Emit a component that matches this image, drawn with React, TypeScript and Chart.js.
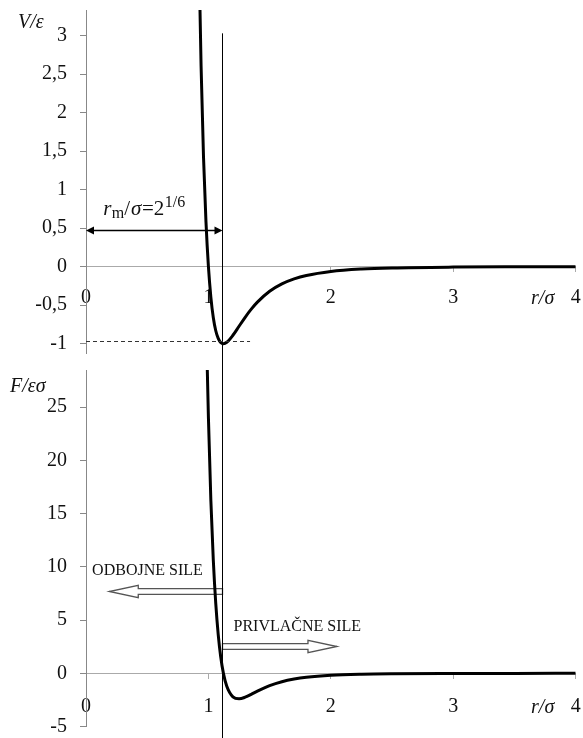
import React, { useEffect, useRef } from "react";
import { Chart, registerables } from "chart.js";

Chart.register(...registerables);

// ---------- data ----------
const xTicks = [0, 1, 2, 3, 4];
const vTicks = [-1, -0.5, 0, 0.5, 1, 1.5, 2, 2.5, 3];
const fTicks = [-5, 0, 5, 10, 15, 20, 25];

const rV = [0.92, 0.94, 0.96, 0.98, 1.0, 1.02, 1.04, 1.06, 1.08, 1.1, 1.1225, 1.15, 1.2, 1.25, 1.3, 1.35, 1.4, 1.5, 1.6, 1.7, 1.8, 2.0, 2.25, 2.5, 3.0, 3.5, 4.0];
const vValues = [4.28, 2.607, 1.418, 0.582, 0, -0.398, -0.663, -0.832, -0.932, -0.984, -1.0, -0.982, -0.891, -0.774, -0.657, -0.552, -0.461, -0.32, -0.224, -0.159, -0.114, -0.0615, -0.0306, -0.0164, -0.0055, -0.0022, -0.001];

const rF = [0.97, 0.98, 0.99, 1.0, 1.02, 1.04, 1.06, 1.08, 1.1, 1.1225, 1.15, 1.2, 1.25, 1.3, 1.35, 1.4, 1.5, 1.6, 1.7, 1.8, 2.0, 2.25, 2.5, 3.0, 3.5, 4.0];
const fValues = [41.6, 34.77, 28.9, 24, 16.21, 10.59, 6.54, 3.64, 1.586, 0, -1.221, -2.21, -2.394, -2.241, -1.966, -1.671, -1.158, -0.788, -0.537, -0.369, -0.182, -0.081, -0.039, -0.011, -0.0037, -0.0015];

// annotation values (data units)
const rMin = 1.112; // vertical marker r_m/σ
const markerTopV = 3.03;
const dashedV = -0.97;
const dashedEndR = 1.34;
const rmArrowV = 0.48;
const rmLabelR = 0.14;
const rmLabelV = 0.67;
const repulsiveArrowF = 7.76;
const repulsiveTipR = 0.19;
const attractiveArrowF = 2.56;
const attractiveTipR = 2.05;
const repulsiveLabel = "ODBOJNE SILE";
const repulsiveLabelR = 0.05;
const repulsiveLabelF = 9.63;
const attractiveLabel = "PRIVLAČNE SILE";
const attractiveLabelR = 1.205;
const attractiveLabelF = 4.38;
const xAxisTitleR = 3.73;

const SERIF = '"Liberation Serif", "Times New Roman", serif';
const fmt = (v: number) => String(v).replace(".", ",");

type Run = { t: string; f: string; dy: number; gap?: number };
function drawRuns(ctx: CanvasRenderingContext2D, runs: Run[], x: number, y: number) {
  let cx = x;
  ctx.textBaseline = "alphabetic";
  ctx.textAlign = "left";
  for (const r of runs) {
    ctx.font = r.f;
    ctx.fillText(r.t, cx, y + r.dy);
    cx += ctx.measureText(r.t).width + (r.gap || 0);
  }
}

function blockArrow(ctx: CanvasRenderingContext2D, xTail: number, xTip: number, yc: number) {
  const dir = Math.sign(xTip - xTail);
  const headLen = 29;
  const headHalf = 6.2;
  const shaftHalf = 2.9;
  const xb = xTip - dir * headLen;
  ctx.beginPath();
  ctx.moveTo(xTail, yc - shaftHalf);
  ctx.lineTo(xb, yc - shaftHalf);
  ctx.lineTo(xb, yc - headHalf);
  ctx.lineTo(xTip, yc);
  ctx.lineTo(xb, yc + headHalf);
  ctx.lineTo(xb, yc + shaftHalf);
  ctx.lineTo(xTail, yc + shaftHalf);
  ctx.closePath();
  ctx.fillStyle = "#fff";
  ctx.fill();
  ctx.strokeStyle = "#555";
  ctx.lineWidth = 1.3;
  ctx.stroke();
}

function makeOptions(yMin: number, yMax: number, yTicks: number[], pad: any, xPad: number, plugin: any) {
  return {
    type: "line" as const,
    data: { datasets: [] as any[] },
    options: {
      animation: false as const,
      responsive: false,
      devicePixelRatio: 1,
      layout: { padding: pad },
      plugins: { legend: { display: false }, tooltip: { enabled: false } },
      scales: {
        x: {
          type: "linear" as const,
          min: 0,
          max: 4,
          position: { y: 0 },
          afterBuildTicks: (s: any) => {
            s.ticks = xTicks.map((v) => ({ value: v }));
          },
          afterFit: (s: any) => {
            s.paddingLeft = 0;
            s.paddingRight = 0;
          },
          border: { display: true, color: "#aaaaaa", width: 1 },
          grid: { display: true, drawOnChartArea: false, drawTicks: true, tickLength: 5, color: "#aaaaaa" },
          ticks: {
            padding: xPad,
            maxRotation: 0,
            autoSkip: false,
            color: "#111",
            font: { family: SERIF, size: 20 },
            callback: (v: any) => fmt(v),
          },
        },
        y: {
          type: "linear" as const,
          min: yMin,
          max: yMax,
          position: "left" as const,
          afterBuildTicks: (s: any) => {
            s.ticks = yTicks.map((v) => ({ value: v }));
          },
          afterFit: (s: any) => {
            s.width = 86;
            s.paddingTop = 0;
            s.paddingBottom = 0;
          },
          border: { display: true, color: "#888888", width: 1 },
          grid: { display: true, drawOnChartArea: false, drawTicks: true, tickLength: 6, color: "#888888" },
          ticks: {
            padding: 13,
            color: "#111",
            font: { family: SERIF, size: 20 },
            callback: (v: any) => fmt(v),
          },
        },
      },
    },
    plugins: [plugin],
  };
}

const topPlugin = {
  id: "topAnnotations",
  afterDatasetsDraw(chart: any) {
    const { ctx, scales } = chart;
    const x = scales.x;
    const y = scales.y;
    ctx.save();
    // vertical marker
    const vx = Math.round(x.getPixelForValue(rMin)) + 0.5;
    ctx.strokeStyle = "#000";
    ctx.lineWidth = 1;
    ctx.beginPath();
    ctx.moveTo(vx, y.getPixelForValue(markerTopV));
    ctx.lineTo(vx, chart.height);
    ctx.stroke();
    // dashed line at the minimum
    ctx.setLineDash([4, 3]);
    ctx.strokeStyle = "#333";
    const dy = Math.round(y.getPixelForValue(dashedV)) + 0.5;
    ctx.beginPath();
    ctx.moveTo(x.getPixelForValue(0), dy);
    ctx.lineTo(x.getPixelForValue(dashedEndR), dy);
    ctx.stroke();
    ctx.setLineDash([]);
    // double arrow
    const ay = Math.round(y.getPixelForValue(rmArrowV)) + 0.5;
    const ax0 = x.getPixelForValue(0);
    const ax1 = vx;
    ctx.lineWidth = 1.5;
    ctx.strokeStyle = "#000";
    ctx.fillStyle = "#000";
    ctx.beginPath();
    ctx.moveTo(ax0 + 4, ay);
    ctx.lineTo(ax1 - 4, ay);
    ctx.stroke();
    const head = (tipX: number, dir: number) => {
      ctx.beginPath();
      ctx.moveTo(tipX, ay);
      ctx.lineTo(tipX + dir * 8, ay - 4);
      ctx.lineTo(tipX + dir * 8, ay + 4);
      ctx.closePath();
      ctx.fill();
    };
    head(ax0, 1);
    head(ax1, -1);
    // r_m label
    ctx.fillStyle = "#111";
    drawRuns(
      ctx,
      [
        { t: "r", f: `italic 21px ${SERIF}`, dy: 0, gap: 0.5 },
        { t: "m", f: `16px ${SERIF}`, dy: 3 },
        { t: "/", f: `21px ${SERIF}`, dy: 0, gap: 1 },
        { t: "σ", f: `italic 21px ${SERIF}`, dy: 0, gap: 0.5 },
        { t: "=2", f: `21px ${SERIF}`, dy: 0, gap: 0.5 },
        { t: "1/6", f: `16px ${SERIF}`, dy: -8 },
      ],
      x.getPixelForValue(rmLabelR),
      y.getPixelForValue(rmLabelV)
    );
    // axis titles
    ctx.font = `italic 20px ${SERIF}`;
    ctx.textBaseline = "middle";
    ctx.textAlign = "left";
    ctx.fillText("V/ε", 18, chart.chartArea.top + 13);
    ctx.textAlign = "center";
    ctx.fillText("r/σ", x.getPixelForValue(xAxisTitleR), y.getPixelForValue(0) + 32);
    ctx.restore();
  },
};

const bottomPlugin = {
  id: "bottomAnnotations",
  beforeDatasetsDraw(chart: any) {
    const { ctx, scales } = chart;
    const x = scales.x;
    const y = scales.y;
    ctx.save();
    const vx = Math.round(x.getPixelForValue(rMin)) + 0.5;
    blockArrow(ctx, vx, x.getPixelForValue(repulsiveTipR), Math.round(y.getPixelForValue(repulsiveArrowF)) + 0.5);
    blockArrow(ctx, vx, x.getPixelForValue(attractiveTipR), Math.round(y.getPixelForValue(attractiveArrowF)) + 0.5);
    ctx.fillStyle = "#111";
    ctx.font = `16px ${SERIF}`;
    ctx.textBaseline = "middle";
    ctx.textAlign = "left";
    ctx.fillText(repulsiveLabel, x.getPixelForValue(repulsiveLabelR), y.getPixelForValue(repulsiveLabelF));
    ctx.fillText(attractiveLabel, x.getPixelForValue(attractiveLabelR), y.getPixelForValue(attractiveLabelF));
    ctx.restore();
  },
  afterDatasetsDraw(chart: any) {
    const { ctx, scales } = chart;
    const x = scales.x;
    const y = scales.y;
    ctx.save();
    const vx = Math.round(x.getPixelForValue(rMin)) + 0.5;
    ctx.strokeStyle = "#000";
    ctx.lineWidth = 1;
    ctx.beginPath();
    ctx.moveTo(vx, 0);
    ctx.lineTo(vx, chart.height);
    ctx.stroke();
    ctx.fillStyle = "#111";
    ctx.font = `italic 20px ${SERIF}`;
    ctx.textBaseline = "middle";
    ctx.textAlign = "left";
    ctx.fillText("F/εσ", 10, chart.chartArea.top + 17);
    ctx.textAlign = "center";
    ctx.fillText("r/σ", x.getPixelForValue(xAxisTitleR), y.getPixelForValue(0) + 34);
    ctx.restore();
  },
};

const lineStyle = {
  borderColor: "#000",
  borderWidth: 3,
  pointRadius: 0,
  cubicInterpolationMode: "monotone" as const,
  fill: false,
  clip: 0,
};

const TOP_H = 362;
const BOTTOM_H = 376;

export default function App() {
  const topRef = useRef<HTMLCanvasElement>(null);
  const botRef = useRef<HTMLCanvasElement>(null);

  useEffect(() => {
    const topCfg: any = makeOptions(-1.125, 3.333, vTicks, { top: 10, bottom: 8.7, left: 0, right: 7.3 }, 14, topPlugin);
    topCfg.data.datasets = [{ data: rV.map((r, i) => ({ x: r, y: vValues[i] })), ...lineStyle }];
    const botCfg: any = makeOptions(-5, 28.48, fTicks, { top: 8, bottom: 11.4, left: 0, right: 7.3 }, 16, bottomPlugin);
    botCfg.data.datasets = [{ data: rF.map((r, i) => ({ x: r, y: fValues[i] })), ...lineStyle }];
    const c1 = new Chart(topRef.current!, topCfg);
    const c2 = new Chart(botRef.current!, botCfg);
    return () => {
      c1.destroy();
      c2.destroy();
    };
  }, []);

  return (
    <div style={{ position: "fixed", left: 0, top: 0, width: 583, height: 738, background: "#fff" }}>
      <canvas ref={topRef} width={583} height={TOP_H} style={{ display: "block", width: 583, height: TOP_H }} />
      <canvas ref={botRef} width={583} height={BOTTOM_H} style={{ display: "block", width: 583, height: BOTTOM_H }} />
    </div>
  );
}
